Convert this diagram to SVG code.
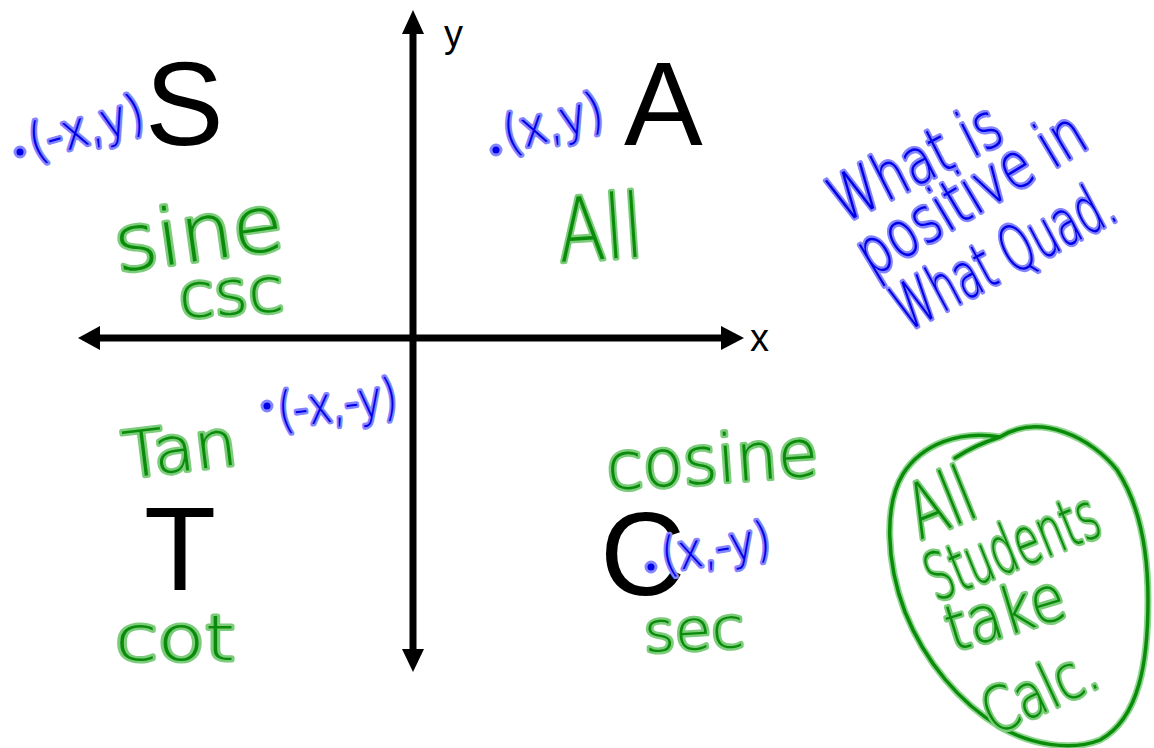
<svg xmlns="http://www.w3.org/2000/svg" width="1154" height="748" viewBox="0 0 1154 748">
<style>
.big{font-family:"Liberation Sans",Arial,sans-serif;fill:#000;}
.lbl{font-family:"Liberation Sans",Arial,sans-serif;fill:#000;font-size:38px;}
.g{font-family:"DejaVu Sans","Liberation Sans",sans-serif;font-weight:200;fill:#0a8c0a;stroke:#7ccc7c;stroke-width:5;paint-order:stroke;stroke-linejoin:round;}
.b{font-family:"DejaVu Sans","Liberation Sans",sans-serif;font-weight:200;fill:#0000e8;stroke:#8484ff;stroke-width:5;paint-order:stroke;stroke-linejoin:round;}
.dot{fill:#0000e8;stroke:#8484ff;stroke-width:3;}
.axis{stroke:#000;stroke-width:7;fill:none;}
.head{fill:#000;}
.oval{fill:none;stroke:#0a8c0a;stroke-width:3.5;stroke-linecap:round;stroke-linejoin:round;}
.ovalh{fill:none;stroke:#8fd68f;stroke-width:7;stroke-linecap:round;stroke-linejoin:round;}
</style>
<rect width="1154" height="748" fill="#fff"/>
<g id="axes">
<line class="axis" x1="413" y1="30" x2="413" y2="652"/>
<polygon class="head" points="413,10 402,34 424,34"/>
<polygon class="head" points="413,672 402,649 424,649"/>
<line class="axis" x1="98" y1="338" x2="724" y2="338"/>
<polygon class="head" points="78,338 100,326 100,350"/>
<polygon class="head" points="744,338 721,326 721,350"/>
<text class="lbl" x="444" y="47">y</text>
<text class="lbl" x="750" y="351">x</text>
</g>
<g id="quadrant-letters">
<text class="big" x="145" y="145" font-size="118">S</text>
<text class="big" x="624" y="145" font-size="118">A</text>
<text class="big" x="144" y="590" font-size="118">T</text>
<text class="big" x="600" y="595" font-size="118">C</text>
</g>
<g id="points">
<circle class="dot" cx="20" cy="152" r="5"/>
<text class="b" transform="translate(34,160) rotate(-16)" font-size="50" textLength="118" lengthAdjust="spacingAndGlyphs">(-x,y)</text>
<circle class="dot" cx="496" cy="150" r="5"/>
<text class="b" transform="translate(508,152) rotate(-15)" font-size="50" textLength="102" lengthAdjust="spacingAndGlyphs">(x,y)</text>
<circle class="dot" cx="267" cy="406" r="5"/>
<text class="b" transform="translate(280,428) rotate(-7)" font-size="50" textLength="120" lengthAdjust="spacingAndGlyphs">(-x,-y)</text>
<circle class="dot" cx="651" cy="567" r="5"/>
<text class="b" transform="translate(664,572) rotate(-9)" font-size="48" textLength="110" lengthAdjust="spacingAndGlyphs">(x,-y)</text>
</g>
<g id="functions">
<text class="g" transform="translate(560,262) rotate(-4)" font-size="88" textLength="85" lengthAdjust="spacingAndGlyphs">All</text>
<text class="g" transform="translate(118,272) rotate(-8)" font-size="78" textLength="170" lengthAdjust="spacingAndGlyphs">sine</text>
<text class="g" transform="translate(180,318) rotate(-4)" font-size="62" textLength="105" lengthAdjust="spacingAndGlyphs">csc</text>
<text class="g" transform="translate(126,478) rotate(-7)" font-size="64" textLength="114" lengthAdjust="spacingAndGlyphs">Tan</text>
<text class="g" transform="translate(115,660)" font-size="62" textLength="120" lengthAdjust="spacingAndGlyphs">cot</text>
<text class="g" transform="translate(608,490) rotate(-4)" font-size="66" textLength="212" lengthAdjust="spacingAndGlyphs">cosine</text>
<text class="g" transform="translate(645,652) rotate(-3)" font-size="56" textLength="100" lengthAdjust="spacingAndGlyphs">sec</text>
</g>
<g id="question">
<text class="b" transform="translate(843,224) rotate(-27)" font-size="64" textLength="184" lengthAdjust="spacingAndGlyphs">What is</text>
<text class="b" transform="translate(872,278) rotate(-31)" font-size="64" textLength="256" lengthAdjust="spacingAndGlyphs">positive in</text>
<text class="b" transform="translate(907,332) rotate(-28)" font-size="64" textLength="242" lengthAdjust="spacingAndGlyphs">What Quad.</text>
</g>
<g id="mnemonic">
<path class="ovalh" d="M 1000,437 C 1040,412 1092,438 1117,470 C 1140,505 1148,550 1148,600 C 1148,660 1140,718 1100,740 C 1070,752 1030,744 1000,727 C 960,703 925,662 905,612 C 886,562 884,505 903,474 C 922,444 960,430 1000,437 Q 975,445 955,458"/>
<path class="oval" d="M 1000,437 C 1040,412 1092,438 1117,470 C 1140,505 1148,550 1148,600 C 1148,660 1140,718 1100,740 C 1070,752 1030,744 1000,727 C 960,703 925,662 905,612 C 886,562 884,505 903,474 C 922,444 960,430 1000,437 Q 975,445 955,458"/>
<text class="g" transform="translate(920,540) rotate(-22)" font-size="76" textLength="66" lengthAdjust="spacingAndGlyphs">All</text>
<text class="g" transform="translate(936,602) rotate(-22)" font-size="66" textLength="182" lengthAdjust="spacingAndGlyphs">Students</text>
<text class="g" transform="translate(953,652) rotate(-17)" font-size="64" textLength="122" lengthAdjust="spacingAndGlyphs">take</text>
<text class="g" transform="translate(994,736) rotate(-25)" font-size="62" textLength="120" lengthAdjust="spacingAndGlyphs">Calc.</text>
</g>
</svg>
